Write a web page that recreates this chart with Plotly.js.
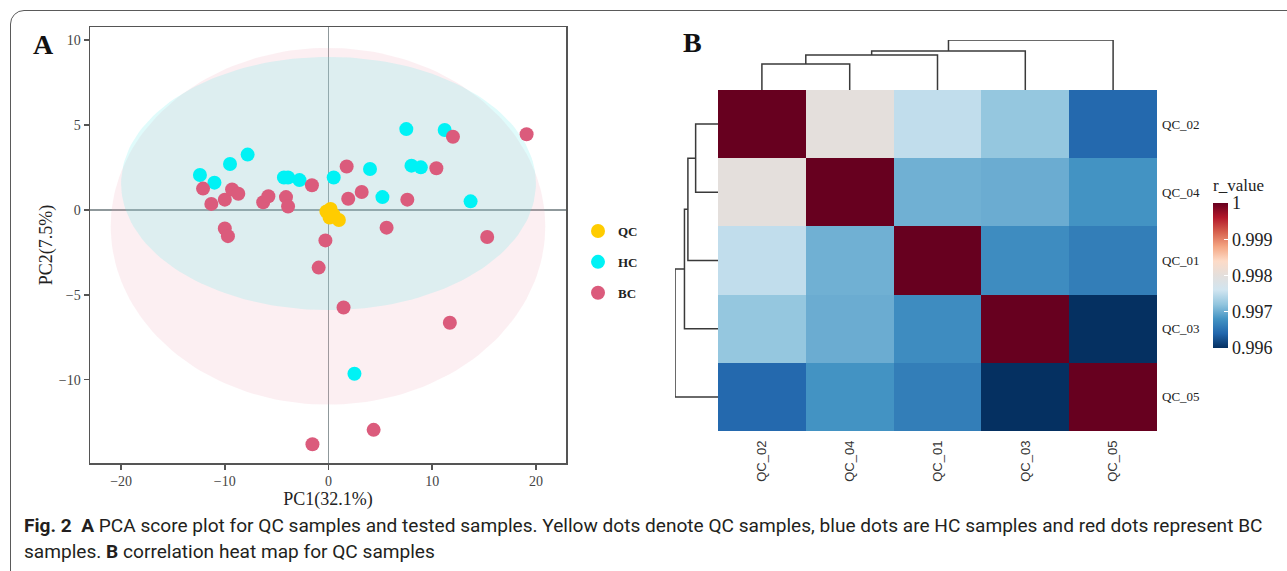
<!DOCTYPE html>
<html>
<head>
<meta charset="utf-8">
<script src="https://cdn.plot.ly/plotly-3.0.1.min.js"></script>
<style>
  html, body { margin: 0; padding: 0; background: #fff; overflow: hidden; }
  #frame { position: absolute; left: 10px; top: 10px; width: 1400px; height: 700px;
           border: 1.5px solid #5a5a5a; border-radius: 14px; box-sizing: border-box; }
  #chart { position: absolute; left: 0; top: 0; width: 1287px; height: 571px; }
</style>
</head>
<body>
<div id="frame"></div>
<div id="chart"></div>
<script>
// ---------- PCA score data ----------
const qcX = [-0.2, 0.1, 0.5, 1.0, 0.2];
const qcY = [-0.1, -0.45, -0.3, -0.6, 0.05];

const hcX = [-12.4, -11.0, -9.5, -7.8, -4.3, -3.9, -2.8, 0.5, 4.0, 5.2, 7.5, 8.0, 8.9, 11.2, 13.7, 2.5];
const hcY = [2.05, 1.6, 2.7, 3.25, 1.9, 1.9, 1.75, 1.9, 2.4, 0.75, 4.75, 2.6, 2.5, 4.7, 0.5, -9.65];

const bcX = [-12.1, -11.3, -10.0, -9.3, -8.7, -10.0, -9.7, -6.3, -5.8, -4.1, -3.9, -1.6, -0.3, 1.75, 1.9, 3.2, 7.6, 10.4, 12.0, 19.1, 5.6, 15.3, -0.95, 1.45, 11.7, 4.35, -1.55];
const bcY = [1.25, 0.35, 0.6, 1.2, 0.95, -1.1, -1.55, 0.45, 0.8, 0.75, 0.2, 1.45, -1.8, 2.55, 0.65, 1.05, 0.6, 2.45, 4.3, 4.45, -1.05, -1.6, -3.4, -5.75, -6.65, -12.95, -13.8];

// confidence ellipses: [centre x, centre y, semi-axis x, semi-axis y]
const hcEllipse = [0.0, 1.55, 20.0, 7.45];
const bcEllipse = [-0.05, -0.97, 20.95, 10.5];

// ---------- Correlation heat map data ----------
const sampleOrder = ['QC_02', 'QC_04', 'QC_01', 'QC_03', 'QC_05'];
const rValues = [
  [1.00000, 0.99800, 0.99750, 0.99722, 0.99643],
  [0.99800, 1.00000, 0.99703, 0.99700, 0.99680],
  [0.99750, 0.99703, 1.00000, 0.99674, 0.99661],
  [0.99722, 0.99700, 0.99674, 1.00000, 0.99600],
  [0.99643, 0.99680, 0.99661, 0.99600, 1.00000]
];
const colorbarTicks = [0.996, 0.997, 0.998, 0.999, 1];
const colorbarTickText = ['0.996', '0.997', '0.998', '0.999', '1'];

// hierarchical clustering (hclust style: negative = leaf index, positive = earlier merge)
const mergeLeft  = [-1, 1, 2, 3];
const mergeRight = [-2, -3, -4, -5];
const mergeHeight = [2.6, 3.5, 3.9, 5.0];

// ---------- helpers ----------
const W = 1287, H = 571;
const px = v => v / W;
const py = v => 1 - v / H;

function ellipseTrace(p, fill) {
  const xs = [], ys = [];
  const n = 180;
  for (let i = 0; i <= n; i++) {
    const t = 2 * Math.PI * i / n;
    xs.push(p[0] + p[2] * Math.cos(t));
    ys.push(p[1] + p[3] * Math.sin(t));
  }
  return { x: xs, y: ys, type: 'scatter', mode: 'lines', fill: 'toself',
           fillcolor: fill, line: { width: 0, color: 'rgba(0,0,0,0)' },
           hoverinfo: 'skip', showlegend: false, xaxis: 'x', yaxis: 'y' };
}

function dendroSegments() {
  const nodePos = [], nodeH = [];
  const P = [], Hh = [];
  function info(id) {
    if (id < 0) return [(-id) - 1, 0];
    return [nodePos[id - 1], nodeH[id - 1]];
  }
  for (let k = 0; k < mergeLeft.length; k++) {
    const a = info(mergeLeft[k]), b = info(mergeRight[k]);
    const h = mergeHeight[k];
    P.push(a[0], a[0], b[0], b[0], null);
    Hh.push(a[1], h, h, b[1], null);
    nodePos.push((a[0] + b[0]) / 2);
    nodeH.push(h);
  }
  return [P, Hh];
}
const seg = dendroSegments();

const serif = 'Liberation Serif, Times New Roman, serif';
const captionFont = 'Roboto, Noto Sans, sans-serif';
const idx = sampleOrder.map((_, i) => i);

const traces = [
  ellipseTrace(bcEllipse, 'rgba(240,160,175,0.17)'),
  ellipseTrace(hcEllipse, 'rgba(100,233,236,0.20)'),
  { x: hcX, y: hcY, type: 'scatter', mode: 'markers', name: 'HC', legendgroup: 'HC', legendrank: 2,
    marker: { color: '#00F2F5', size: 14 }, xaxis: 'x', yaxis: 'y' },
  { x: bcX, y: bcY, type: 'scatter', mode: 'markers', name: 'BC', legendgroup: 'BC', legendrank: 3,
    marker: { color: '#DB5B7C', size: 14 }, xaxis: 'x', yaxis: 'y' },
  { x: qcX, y: qcY, type: 'scatter', mode: 'markers', name: 'QC', legendgroup: 'QC', legendrank: 1,
    marker: { color: '#FFCC00', size: 14 }, xaxis: 'x', yaxis: 'y' },
  { z: rValues, x: idx, y: idx, type: 'heatmap', xaxis: 'x3', yaxis: 'y3',
    zmin: 0.996, zmax: 1.0, showlegend: false,
    colorscale: [[0, '#053061'], [0.1, '#2166ac'], [0.2, '#4393c3'], [0.3, '#92c5de'],
                 [0.4, '#d1e5f0'], [0.5, '#e4dfdc'], [0.6, '#fddbc7'], [0.7, '#f4a582'],
                 [0.8, '#d6604d'], [0.9, '#b2182b'], [1, '#67001f']],
    colorbar: { x: px(1213), xanchor: 'left', y: py(348), yanchor: 'bottom',
                len: 145 / H, lenmode: 'fraction', thickness: 15, thicknessmode: 'pixels',
                outlinewidth: 0, xpad: 0, ypad: 0,
                tickvals: colorbarTicks, ticktext: colorbarTickText,
                ticks: 'inside', ticklen: 4, tickcolor: '#ffffff', tickwidth: 1.2,
                tickfont: { family: serif, size: 18, color: '#222' } } },
  { x: seg[0], y: seg[1], type: 'scatter', mode: 'lines', xaxis: 'x3', yaxis: 'y4',
    line: { color: '#3a3a3a', width: 1.5 }, hoverinfo: 'skip', showlegend: false },
  { x: seg[1], y: seg[0], type: 'scatter', mode: 'lines', xaxis: 'x5', yaxis: 'y3',
    line: { color: '#3a3a3a', width: 1.5 }, hoverinfo: 'skip', showlegend: false }
];

const axisCol = '#555555';
const layout = {
  width: W, height: H, autosize: false,
  margin: { l: 0, r: 0, t: 0, b: 0 },
  paper_bgcolor: 'rgba(0,0,0,0)', plot_bgcolor: 'rgba(0,0,0,0)',
  showlegend: true,
  legend: { x: px(578), xanchor: 'left', y: py(216), yanchor: 'top',
            traceorder: 'grouped', tracegroupgap: 11,
            font: { family: serif, size: 13, color: '#222', weight: 'bold' },
            itemwidth: 30, bgcolor: 'rgba(0,0,0,0)' },
  xaxis: { domain: [px(90), px(566)], range: [-23.0, 22.9], anchor: 'y',
           tickvals: [-20, -10, 0, 10, 20], showgrid: false,
           zeroline: true, zerolinecolor: '#8f989b', zerolinewidth: 1.5,
           showline: true, mirror: true, linecolor: axisCol, linewidth: 1.5,
           ticks: 'outside', ticklen: 5, tickcolor: axisCol, tickwidth: 1.5,
           tickfont: { family: serif, size: 14, color: '#444' },
           title: { text: 'PC1(32.1%)', standoff: 0, font: { family: serif, size: 18, color: '#222' } } },
  yaxis: { domain: [py(463), py(27)], range: [-14.9, 10.76], anchor: 'x',
           tickvals: [-10, -5, 0, 5, 10], showgrid: false,
           zeroline: true, zerolinecolor: '#8f989b', zerolinewidth: 1.5,
           showline: true, mirror: true, linecolor: axisCol, linewidth: 1.5,
           ticks: 'outside', ticklen: 5, tickcolor: axisCol, tickwidth: 1.5,
           tickfont: { family: serif, size: 14, color: '#444' },
           title: { text: 'PC2(7.5%)', standoff: 1, font: { family: serif, size: 18, color: '#222' } } },
  xaxis3: { domain: [px(718), px(1157)], range: [-0.5, 4.5], anchor: 'y3',
            tickvals: idx, ticktext: sampleOrder, tickangle: -90,
            showgrid: false, zeroline: false, showline: false, ticks: '',
            ticklabelstandoff: 6,
            tickfont: { family: 'Liberation Sans, Arial, sans-serif', size: 13, color: '#333' } },
  yaxis3: { domain: [py(431), py(90)], range: [4.5, -0.5], anchor: 'x3', side: 'right',
            tickvals: idx, ticktext: sampleOrder,
            showgrid: false, zeroline: false, showline: false, ticks: '',
            ticklabelstandoff: 4,
            tickfont: { family: serif, size: 13, color: '#222' } },
  yaxis4: { domain: [py(90), py(40)], range: [0, 5.0], anchor: 'x3',
            visible: false, showgrid: false, zeroline: false },
  xaxis5: { domain: [px(675), px(718)], range: [5.0, 0], anchor: 'y3',
            visible: false, showgrid: false, zeroline: false },
  annotations: [
    { text: '<b>A</b>', x: px(43), y: py(45), xref: 'paper', yref: 'paper', showarrow: false,
      xanchor: 'center', yanchor: 'middle', font: { family: serif, size: 28, color: '#111' } },
    { text: '<b>B</b>', x: px(692), y: py(42), xref: 'paper', yref: 'paper', showarrow: false,
      xanchor: 'center', yanchor: 'middle', font: { family: serif, size: 28, color: '#111' } },
    { text: 'r_value', x: px(1211), y: py(185), xref: 'paper', yref: 'paper', showarrow: false,
      xanchor: 'left', yanchor: 'middle', font: { family: serif, size: 17, color: '#222' } },
    { text: '<b>Fig. 2</b>  <b>A</b> PCA score plot for QC samples and tested samples. Yellow dots denote QC samples, blue dots are HC samples and red dots represent BC',
      x: px(22), y: py(525), xref: 'paper', yref: 'paper', showarrow: false,
      xanchor: 'left', yanchor: 'middle',
      font: { family: captionFont, size: 19.1, color: '#231f20' } },
    { text: 'samples. <b>B</b> correlation heat map for QC samples',
      x: px(22), y: py(551), xref: 'paper', yref: 'paper', showarrow: false,
      xanchor: 'left', yanchor: 'middle',
      font: { family: captionFont, size: 19.1, color: '#231f20' } }
  ]
};

Plotly.newPlot('chart', traces, layout, { displayModeBar: false, staticPlot: true });
</script>
</body>
</html>
